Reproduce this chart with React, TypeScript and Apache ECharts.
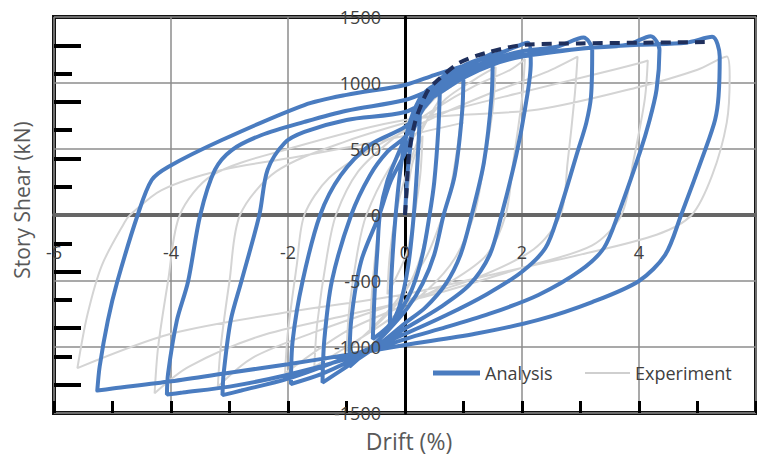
import React, { useEffect, useRef } from "react";
import * as echarts from "echarts";

// ---- tick definitions ----
const xMin = -6;
const xMax = 6;
const yMin = -1500;
const yMax = 1500;
const leftLongTicks = [-1285.7, -857.1, -428.6, 428.6, 857.1, 1285.7];
const leftShortTicks = [-1071.4, -642.9, -214.3, 214.3, 642.9, 1071.4];

// ---- Analysis (drift %, story shear kN) ----
const analysisCycle1 = [[0,0],[0.05,350],[0.14,650],[0.26,830],[0.22,450],[0.15,0],[0.05,-400],[-0.1,-700],[-0.26,-850],[-0.23,-450],[-0.16,0],[-0.06,400],[0.08,700],[0.25,880],[0.42,960]];
const analysisCycle2 = [[0.6,1000],[0.57,650],[0.5,250],[0.42,0],[0.3,-300],[0.12,-560],[-0.1,-740],[-0.3,-850],[-0.55,-940],[-0.52,-600],[-0.47,-250],[-0.43,0],[-0.3,260],[-0.1,480],[0.1,680],[0.35,900],[0.6,1030],[0.85,1100]];
const analysisCycle3 = [[1.0,1130],[0.98,800],[0.85,300],[0.66,0],[0.5,-300],[0.3,-520],[0.05,-700],[-0.3,-880],[-0.6,-1010],[-0.95,-1150],[-0.92,-800],[-0.75,-350],[-0.44,0],[-0.25,250],[0,470],[0.15,650],[0.35,850],[0.6,1000],[1.0,1130],[1.3,1185]];
const analysisCycle4 = [[1.5,1225],[1.48,900],[1.35,400],[1.14,0],[0.95,-300],[0.7,-520],[0.35,-700],[0,-820],[-0.5,-1000],[-1.0,-1150],[-1.41,-1270],[-1.38,-950],[-1.25,-500],[-0.92,0],[-0.6,300],[-0.3,480],[0,590],[0.2,720],[0.45,900],[0.8,1050],[1.2,1160],[1.7,1240]];
const analysisCycle5 = [[2.1,1305],[2.15,1150],[2.05,800],[1.9,450],[1.65,0],[1.45,-300],[1.1,-530],[0.6,-700],[0,-860],[-0.7,-1050],[-1.4,-1200],[-1.95,-1280],[-1.92,-950],[-1.75,-500],[-1.45,0],[-1.1,300],[-0.6,530],[0,667],[0.3,800],[0.6,950],[1.0,1080],[1.5,1180],[2.0,1240],[2.6,1275]];
const analysisCycle6 = [[3.05,1345],[3.2,1250],[3.18,900],[3.1,700],[2.95,480],[2.62,0],[2.4,-250],[2.0,-430],[1.4,-600],[0.7,-760],[0,-900],[-1,-1080],[-2,-1240],[-2.8,-1330],[-3.12,-1365],[-3.1,-1200],[-2.98,-800],[-2.8,-508],[-2.49,0],[-2.35,341],[-2.06,545],[-1.72,629],[-1,720],[0,780],[0.5,900],[1.0,1040],[1.5,1140],[2,1200],[3,1260],[3.8,1290]];
const analysisCycle7 = [[4.2,1355],[4.35,1250],[4.3,950],[4.17,700],[4.02,480],[3.64,0],[3.4,-250],[3.0,-420],[2.28,-606],[1.5,-740],[0.7,-850],[0,-940],[-1,-1090],[-2,-1210],[-3,-1300],[-3.8,-1345],[-4.07,-1360],[-4.05,-1200],[-3.9,-800],[-3.71,-508],[-3.5,0],[-3.25,341],[-2.96,492],[-2.45,606],[-1.72,705],[-1,790],[0,871],[0.5,960],[1,1060],[1.5,1150],[2,1210],[3,1260],[4,1290],[4.8,1305]];
const analysisCycle8 = [[5.25,1350],[5.38,1200],[5.36,900],[5.3,720],[5.12,480],[4.72,0],[4.45,-300],[4.0,-500],[3.2,-660],[2.28,-795],[1.2,-900],[0,-985],[-1,-1060],[-2,-1130],[-3,-1195],[-4,-1260],[-5,-1315],[-5.26,-1330],[-5.22,-1150],[-5.08,-800],[-4.92,-508],[-4.57,0],[-4.33,265],[-4.05,364],[-3.13,568],[-1.72,833],[-1,910],[0,985],[0.5,1060],[1.0,1130]];

// ---- Experiment ----
const experimentCycle1 = [[0,0],[0.12,380],[0.3,600],[0.26,300],[0.16,0],[0.02,-300],[-0.3,-600],[-0.26,-300],[-0.16,0],[0,280],[0.3,650]];
const experimentCycle2 = [[0.6,880],[0.55,500],[0.42,0],[0.22,-380],[-0.1,-650],[-0.6,-880],[-0.55,-500],[-0.42,0],[-0.2,380],[0.1,650],[0.5,880]];
const experimentCycle3 = [[1.0,1030],[0.95,700],[0.78,200],[0.65,0],[0.35,-330],[-0.2,-680],[-0.6,-870],[-1.0,-1030],[-0.95,-700],[-0.8,-250],[-0.66,0],[-0.3,330],[0.2,620],[0.7,880],[1.2,1030]];
const experimentCycle4 = [[1.55,1120],[1.5,800],[1.32,300],[1.18,0],[0.85,-330],[0.4,-560],[-0.3,-800],[-1.0,-1000],[-1.55,-1150],[-1.5,-820],[-1.33,-300],[-1.18,0],[-0.8,330],[-0.2,580],[0.5,800],[1.2,980],[1.8,1100]];
const experimentCycle5 = [[2.05,1180],[2.0,880],[1.85,400],[1.72,0],[1.4,-300],[0.8,-500],[0,-680],[-1,-880],[-2.05,-1200],[-2.0,-880],[-1.85,-380],[-1.72,0],[-1.3,280],[-0.5,520],[0.5,740],[1.5,930],[2.4,1080]];
const experimentCycle6 = [[2.95,1200],[2.9,900],[2.78,400],[2.66,0],[2.2,-260],[1.2,-480],[0,-650],[-1.5,-880],[-2.6,-1080],[-3.2,-1300],[-3.15,-1000],[-3.0,-500],[-2.82,0],[-2.2,330],[-1,560],[0.5,760],[2,930],[3.2,1060],[4.0,1150]];
const experimentCycle7 = [[4.15,1170],[4.1,880],[3.9,400],[3.7,0],[3.2,-230],[2,-400],[0.5,-600],[-1,-760],[-2.5,-920],[-3.7,-1150],[-4.28,-1350],[-4.22,-1000],[-4.05,-500],[-3.85,0],[-3.3,300],[-2,500],[0,720],[2.28,800],[4,970],[5.0,1100],[5.5,1200]];
const experimentCycle8 = [[5.55,1050],[5.5,700],[5.25,300],[4.9,0],[4.3,-150],[3,-300],[1.5,-450],[0,-600],[-2,-735],[-4,-900],[-5.6,-1160],[-5.43,-758],[-5.18,-379],[-4.79,-53],[-4.7,0],[-4.16,189],[-3.13,341],[-1.72,450],[0,600],[1,700]];

// ---- Envelope (dashed) ----
const envelopeCurve = [[0,0],[0.03,200],[0.07,470],[0.17,700],[0.29,850],[0.4,950],[0.53,1010],[0.92,1150],[1.38,1227],[2.06,1290],[3,1300],[4,1305],[5.2,1310]];

const analysisData = [...analysisCycle1, ...analysisCycle2, ...analysisCycle3, ...analysisCycle4, ...analysisCycle5, ...analysisCycle6, ...analysisCycle7, ...analysisCycle8];
const experimentData = [...experimentCycle1, ...experimentCycle2, ...experimentCycle3, ...experimentCycle4, ...experimentCycle5, ...experimentCycle6, ...experimentCycle7, ...experimentCycle8];

const FONT = "Open Sans";
const GRID = { left: 54, right: 1, top: 17, bottom: 43 };
const W = 757;
const H = 456;
const plotW = W - GRID.left - GRID.right;
const plotH = H - GRID.top - GRID.bottom;
const labelStyle = { fontSize: 18, color: "#404040", fontFamily: FONT };

export default function App() {
  const ref = useRef<HTMLDivElement>(null);
  useEffect(() => {
    const chart = echarts.init(ref.current!, null, { renderer: "svg" });
    const option: any = {
      animation: false,
      backgroundColor: "#ffffff",
      textStyle: { fontFamily: FONT },
      grid: { ...GRID, show: true, borderColor: "#111", borderWidth: 4, containLabel: false, outerBoundsMode: "none" },
      legend: [
        {
          data: ["Analysis"],
          left: 428,
          top: 359,
          icon: "rect",
          itemWidth: 47,
          itemHeight: 5,
          itemStyle: { color: "#4a7cc0" },
          textStyle: labelStyle,
        },
        {
          data: ["Experiment"],
          left: 580,
          top: 359,
          icon: "rect",
          itemWidth: 45,
          itemHeight: 2,
          itemStyle: { color: "#cfcfcf" },
          textStyle: labelStyle,
        },
      ],
      graphic: [
        { type: "text", x: 22, y: 200, rotation: Math.PI / 2, style: { text: "Story Shear (kN)", fontSize: 21, fill: "#595959", fontFamily: FONT, align: "center", verticalAlign: "middle" } },
        { type: "text", x: 409, y: 441, style: { text: "Drift (%)", fontSize: 23, fill: "#595959", fontFamily: FONT, align: "center", verticalAlign: "middle" } },
      ],
      xAxis: [
        {
          type: "value", min: xMin, max: xMax, interval: 2, position: "bottom", offset: -plotH / 2,
          axisLine: { show: true, onZero: false, lineStyle: { color: "#666", width: 4 } },
          axisTick: { show: false },
          axisLabel: { show: false },
          splitLine: { show: true, lineStyle: { color: "#8c8c8c", width: 1.5 } },
        },
        {
          type: "value", min: xMin, max: xMax, interval: 1, position: "bottom",
          axisLine: { show: false, onZero: false },
          axisTick: { show: true, inside: true, length: 12, lineStyle: { color: "#000", width: 3 } },
          axisLabel: { show: false },
          splitLine: { show: false },
        },
        {
          type: "value", min: xMin, max: xMax, interval: 2, position: "bottom", offset: -plotH / 2, z: 10,
          axisLine: { show: false, onZero: false },
          axisTick: { show: false },
          axisLabel: { margin: 28, ...labelStyle, showMaxLabel: false, formatter: (v: number) => String(v) },
          splitLine: { show: false },
        },
      ],
      yAxis: [
        {
          type: "value", min: yMin, max: yMax, interval: 500, position: "left", offset: -plotW / 2,
          axisLine: { show: true, onZero: false, lineStyle: { color: "#000", width: 3 } },
          axisTick: { show: false },
          axisLabel: { show: false },
          splitLine: { show: true, lineStyle: { color: "#8c8c8c", width: 1.5 } },
        },
        {
          type: "value", min: yMin, max: yMax, position: "left",
          axisLine: { show: false, onZero: false },
          axisTick: { show: true, inside: true, length: 27, customValues: leftLongTicks, lineStyle: { color: "#000", width: 4 } },
          axisLabel: { show: false },
          splitLine: { show: false },
        },
        {
          type: "value", min: yMin, max: yMax, position: "left",
          axisLine: { show: false, onZero: false },
          axisTick: { show: true, inside: true, length: 18, customValues: leftShortTicks, lineStyle: { color: "#000", width: 4 } },
          axisLabel: { show: false },
          splitLine: { show: false },
        },
        {
          type: "value", min: yMin, max: yMax, interval: 500, position: "left", offset: -plotW / 2, z: 10,
          axisLine: { show: false, onZero: false },
          axisTick: { show: false },
          axisLabel: { margin: 24, ...labelStyle, formatter: (v: number) => String(v) },
          splitLine: { show: false },
        },
      ],
      series: [
        {
          name: "Experiment", type: "line", data: experimentData, symbol: "none", smooth: 0.3,
          lineStyle: { color: "#d4d4d4", width: 2 }, itemStyle: { color: "#cfcfcf" }, z: 2,
        },
        {
          name: "Analysis", type: "line", data: analysisData, symbol: "none", smooth: 0.3,
          lineStyle: { color: "#4a7cc0", width: 4 }, itemStyle: { color: "#4a7cc0" }, z: 3,
        },
        {
          name: "Envelope", type: "line", data: envelopeCurve, symbol: "none", smooth: 0.3,
          lineStyle: { color: "#1f2f5c", width: 4, type: [10, 7] }, itemStyle: { color: "#1f2f5c" }, z: 4,
        },
      ],
    };
    chart.setOption(option);
    return () => chart.dispose();
  }, []);
  return <div ref={ref} style={{ position: "fixed", left: 0, top: 0, width: W, height: H }} />;
}
